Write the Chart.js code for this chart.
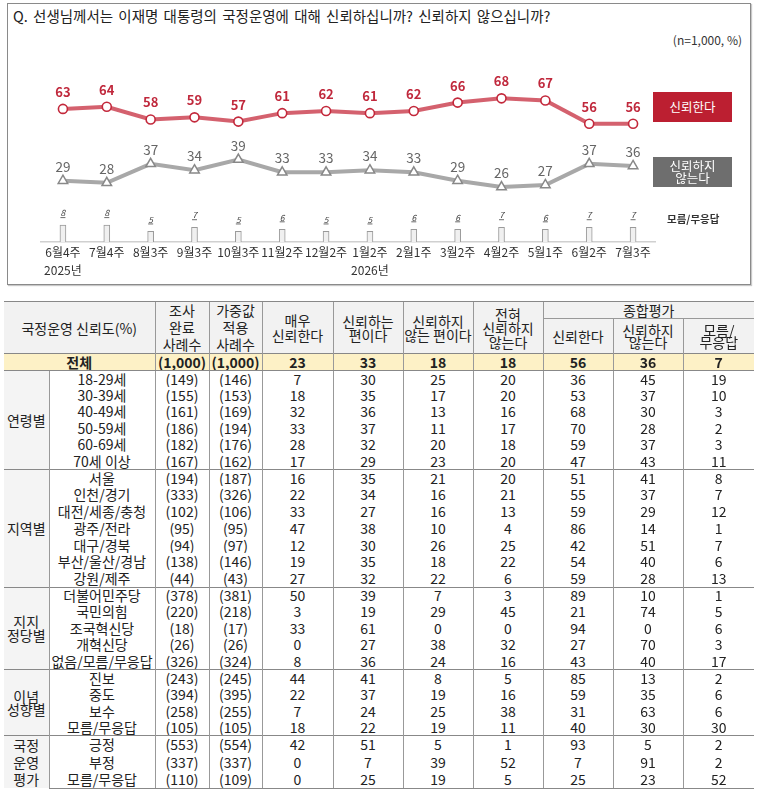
<!DOCTYPE html>
<html><head><meta charset="utf-8">
<script src="https://cdn.jsdelivr.net/npm/chart.js@4.4.0/dist/chart.umd.min.js"></script>
<style>
body{margin:0;background:#fff;font-family:"Noto Sans CJK KR","Noto Sans",sans-serif;color:#222;}
#wrap{position:relative;width:761px;height:792px;overflow:hidden;}
#frame{position:absolute;left:7px;top:3px;width:742px;height:280px;border:1px solid #8a8a8a;box-shadow:1px 1px 1px #c8c8c8;}
#title{position:absolute;left:13px;top:6px;font-size:14.5px;word-spacing:2px;line-height:20px;white-space:nowrap;color:#222;}
#unit{position:absolute;right:19px;top:32px;font-size:12px;line-height:16px;white-space:nowrap;color:#333;}
#chartBox{position:absolute;left:0;top:0;}
.lg{position:absolute;color:#fff;font-size:12.5px;text-align:center;display:flex;align-items:center;justify-content:center;line-height:12.5px;}
#lgDk{position:absolute;left:667px;top:211px;font-size:10.5px;font-weight:bold;line-height:16px;color:#333;white-space:nowrap;}
table{position:absolute;left:4px;top:301px;border-collapse:collapse;table-layout:fixed;width:750px;font-size:14px;}
td,th{padding:0;text-align:center;vertical-align:middle;overflow:hidden;white-space:nowrap;font-weight:normal;line-height:15px;color:#222;}
th{background:#f2f2f2;border-left:1px solid #999;font-size:14px;line-height:14px;}
th.first{border-left:none;}
thead tr:first-child th{border-top:1.5px solid #888;}
th.tall{line-height:17px;}
th.sub{border-bottom:1px solid #999;}
tr.total td{background:#fdf1c6;font-weight:bold;border-top:1.5px solid #888;border-bottom:1.5px solid #888;}
td{border-left:1px solid #999;}
td.grp{background:#f4f4f4;border-left:none;}
tr.sec td{border-top:1.5px solid #888;}
tbody tr:last-child td{border-bottom:1.5px solid #888;}
</style>
</head>
<body>
<div id="wrap">
  <div id="frame"></div>
  <div id="title">Q. 선생님께서는 이재명 대통령의 국정운영에 대해 신뢰하십니까? 신뢰하지 않으십니까?</div>
  <div id="unit">(n=1,000, %)</div>
  <div id="chartBox"><canvas id="c" width="761" height="290"></canvas></div>
  <div class="lg" style="left:653px;top:92px;width:79px;height:30px;background:#bc1f31;">신뢰한다</div>
  <div class="lg" style="left:653px;top:157px;width:79px;height:30px;background:#6e6e6e;">신뢰하지<br>않는다</div>
  <div id="lgDk">모름/무응답</div>
  <table id="tbl">
    <colgroup>
      <col style="width:45px"><col style="width:106px"><col style="width:54px"><col style="width:53px">
      <col style="width:71px"><col style="width:70px"><col style="width:70px"><col style="width:70px">
      <col style="width:70px"><col style="width:70px"><col style="width:71px">
    </colgroup>
    <thead>
      <tr style="height:17px">
        <th class="first" colspan="2" rowspan="2">국정운영 신뢰도(%)</th>
        <th class="tall" rowspan="2">조사<br>완료<br>사례수</th>
        <th class="tall" rowspan="2">가중값<br>적용<br>사례수</th>
        <th rowspan="2" style="line-height:15px">매우<br>신뢰한다</th>
        <th rowspan="2">신뢰하는<br>편이다</th>
        <th rowspan="2">신뢰하지<br>않는 편이다</th>
        <th rowspan="2">전혀<br>신뢰하지<br>않는다</th>
        <th class="sub" colspan="3">종합평가</th>
      </tr>
      <tr style="height:35px">
        <th>신뢰한다</th>
        <th style="line-height:12.5px">신뢰하지<br>않는다</th>
        <th style="line-height:12.5px">모름/<br>무응답</th>
      </tr>
    </thead>
    <tbody id="tb"></tbody>
  </table>
</div>
<script>
// ---- chart data ----
const weeks = ['6월4주','7월4주','8월3주','9월3주','10월3주','11월2주','12월2주','1월2주','2월1주','3월2주','4월2주','5월1주','6월2주','7월3주'];
const years = ['2025년','','','','','','','2026년','','','','','',''];
const trust = [63,64,58,59,57,61,62,61,62,66,68,67,56,56];
const distrust = [29,28,37,34,39,33,33,34,33,29,26,27,37,36];
const unknown = [8,8,5,7,5,6,5,5,6,6,7,6,7,7];

// ---- table data ----
const totalRow = ['전체','(1,000)','(1,000)',23,33,18,18,56,36,7];
const ageRows = [
 ['18-29세','(149)','(146)',7,30,25,20,36,45,19],
 ['30-39세','(155)','(153)',18,35,17,20,53,37,10],
 ['40-49세','(161)','(169)',32,36,13,16,68,30,3],
 ['50-59세','(186)','(194)',33,37,11,17,70,28,2],
 ['60-69세','(182)','(176)',28,32,20,18,59,37,3],
 ['70세 이상','(167)','(162)',17,29,23,20,47,43,11]];
const regionRows = [
 ['서울','(194)','(187)',16,35,21,20,51,41,8],
 ['인천/경기','(333)','(326)',22,34,16,21,55,37,7],
 ['대전/세종/충청','(102)','(106)',33,27,16,13,59,29,12],
 ['광주/전라','(95)','(95)',47,38,10,4,86,14,1],
 ['대구/경북','(94)','(97)',12,30,26,25,42,51,7],
 ['부산/울산/경남','(138)','(146)',19,35,18,22,54,40,6],
 ['강원/제주','(44)','(43)',27,32,22,6,59,28,13]];
const partyRows = [
 ['더불어민주당','(378)','(381)',50,39,7,3,89,10,1],
 ['국민의힘','(220)','(218)',3,19,29,45,21,74,5],
 ['조국혁신당','(18)','(17)',33,61,0,0,94,0,6],
 ['개혁신당','(26)','(26)',0,27,38,32,27,70,3],
 ['없음/모름/무응답','(326)','(324)',8,36,24,16,43,40,17]];
const ideologyRows = [
 ['진보','(243)','(245)',44,41,8,5,85,13,2],
 ['중도','(394)','(395)',22,37,19,16,59,35,6],
 ['보수','(258)','(255)',7,24,25,38,31,63,6],
 ['모름/무응답','(105)','(105)',18,22,19,11,40,30,30]];
const evalRows = [
 ['긍정','(553)','(554)',42,51,5,1,93,5,2],
 ['부정','(337)','(337)',0,7,39,52,7,91,2],
 ['모름/무응답','(110)','(109)',0,25,19,5,25,23,52]];
const groupNames = ['연령별','지역별','지지<br>정당별','이념<br>성향별','국정<br>운영<br>평가'];

// build table
(function(){
  const tb = document.getElementById('tb');
  let h = '<tr class="total" style="height:17px"><td colspan="2" style="border-left:none">'+totalRow[0]+'</td>';
  for (let i=1;i<totalRow.length;i++) h += '<td>'+totalRow[i]+'</td>';
  h += '</tr>';
  const groups = [ageRows, regionRows, partyRows, ideologyRows, evalRows];
  const rh = [16.5, 16.8, 16.5, 16.6, 17.5];
  const glh = [15, 15, 14, 13, 17];
  groups.forEach((rows, gi)=>{
    rows.forEach((r, ri)=>{
      h += '<tr'+(ri===0?' class="sec"':'')+' style="height:'+rh[gi]+'px">';
      if (ri===0) h += '<td class="grp" rowspan="'+rows.length+'" style="line-height:'+glh[gi]+'px">'+groupNames[gi]+'</td>';
      r.forEach(v=>{ h += '<td>'+v+'</td>'; });
      h += '</tr>';
    });
  });
  tb.innerHTML = h;
})();

const FONT = '"Noto Sans CJK KR","Noto Sans",sans-serif';
const labelPlugin = {
  id:'valueLabels',
  afterDatasetsDraw(chart){
    const c = chart.ctx;
    c.save();
    c.textAlign = 'center';
    c.textBaseline = 'middle';
    c.font = 'bold 13px '+FONT;
    c.fillStyle = '#c0283c';
    chart.getDatasetMeta(0).data.forEach((p,i)=>{ c.fillText(String(trust[i]), p.x, p.y-17); });
    c.font = '13.5px '+FONT;
    c.fillStyle = '#666';
    chart.getDatasetMeta(1).data.forEach((p,i)=>{ c.fillText(String(distrust[i]), p.x, p.y-14); });
    c.font = 'italic 8.5px '+FONT;
    c.fillStyle = '#444';
    c.strokeStyle = '#444';
    c.lineWidth = 0.8;
    chart.getDatasetMeta(2).data.forEach((b,i)=>{
      const y = b.y-12;
      c.fillText(String(unknown[i]), b.x, y);
      c.beginPath(); c.moveTo(b.x-2.5, y+4.5); c.lineTo(b.x+2.5, y+4.5); c.stroke();
    });
    c.restore();
  }
};

new Chart(document.getElementById('c'), {
  type:'bar',
  data:{
    labels: weeks.map((w,i)=> years[i] ? [w, years[i]] : w),
    datasets:[
      {type:'line', label:'신뢰한다', data:trust, borderColor:'rgba(208,84,98,0.92)', borderWidth:4,
       pointRadius:4.5, pointBackgroundColor:'#fff', pointBorderColor:'#c3283b', pointBorderWidth:1.6, tension:0, order:1},
      {type:'line', label:'신뢰하지 않는다', data:distrust, borderColor:'#a8a8a8', borderWidth:4,
       pointStyle:'triangle', pointRadius:5.5, pointBackgroundColor:'#fff', pointBorderColor:'#888', pointBorderWidth:1.5, tension:0, order:2},
      {type:'bar', label:'모름/무응답', data:unknown, backgroundColor:'#f0f0f0', borderColor:'#9a9a9a', borderWidth:1, barThickness:6, order:3}
    ]
  },
  options:{
    responsive:false, animation:false,
    layout:{padding:{left:41, right:106, top:73, bottom:10}},
    plugins:{legend:{display:false}, tooltip:{enabled:false}},
    scales:{
      x:{grid:{display:false, drawTicks:false}, border:{display:true, color:'#d0d0d0', width:1.5},
         ticks:{autoSkip:false, maxRotation:0, minRotation:0, padding:1, color:'#333', font:{family:FONT, size:12, lineHeight:1.5}}},
      y:{display:false, min:0, max:80}
    }
  },
  plugins:[labelPlugin]
});
</script>
</body></html>
